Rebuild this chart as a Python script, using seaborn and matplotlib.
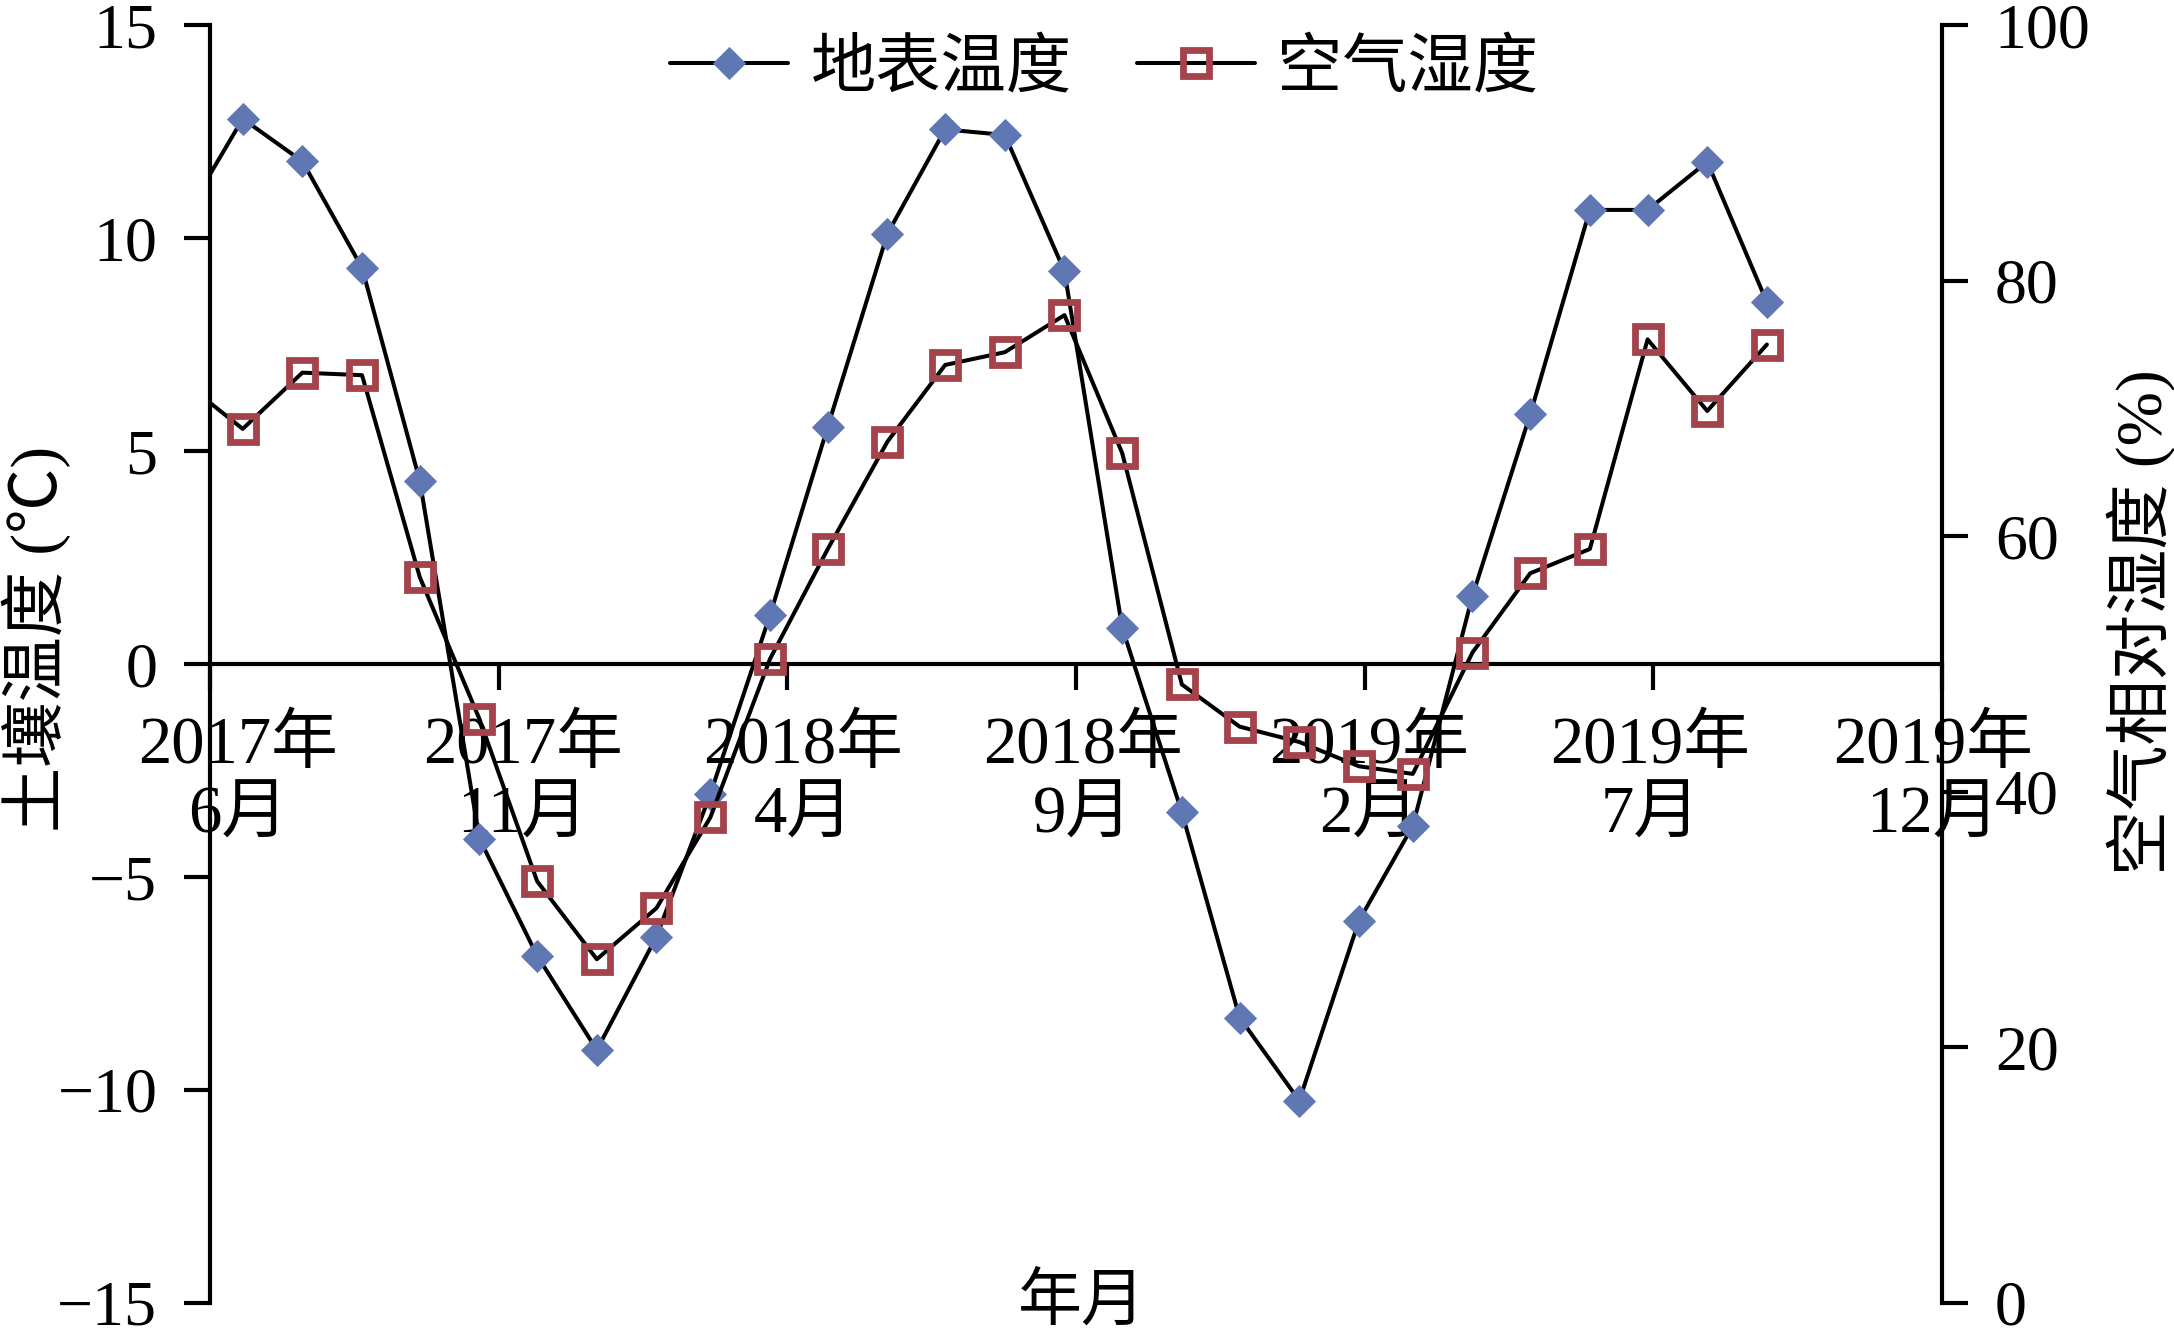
import numpy as np
import pandas as pd
import matplotlib
matplotlib.use("Agg")
import matplotlib.pyplot as plt
import matplotlib.transforms as mtransforms
import seaborn as sns

# monthly sampling dates (the first one sits left of the axis start and gets clipped)
dates = ["2017-06-01", "2017-07-01", "2017-08-01", "2017-09-01", "2017-10-01",
         "2017-11-01", "2017-12-01", "2018-01-01", "2018-02-01", "2018-03-01",
         "2018-04-01", "2018-05-01", "2018-06-01", "2018-07-01", "2018-08-01",
         "2018-09-01", "2018-10-01", "2018-11-01", "2018-12-01", "2019-01-01",
         "2019-02-01", "2019-03-01", "2019-04-01", "2019-05-01", "2019-06-01",
         "2019-07-01", "2019-08-01", "2019-09-01"]

# 地表温度 (°C), left axis
soil_temp = [10.5, 12.8, 11.8, 9.3, 4.3, -4.1, -6.85, -9.06, -6.4, -3.05,
             1.15, 5.57, 10.1, 12.55, 12.42, 9.22, 0.85, -3.48, -8.3, -10.25,
             -6.03, -3.8, 1.6, 5.86, 10.66, 10.66, 11.79, 8.49]

# 空气湿度 (%), right axis
air_humidity = [72.0, 68.4, 72.8, 72.6, 56.8, 45.7, 33.0, 26.9, 30.9, 38.0,
                50.4, 59.0, 67.4, 73.4, 74.4, 77.3, 66.5, 48.4, 45.1, 43.9,
                42.0, 41.4, 50.9, 57.1, 59.0, 75.4, 69.8, 75.0]

series_names = ["地表温度", "空气湿度"]
left_label = "土壤温度 (℃)"
right_label = "空气相对湿度 (%)"
x_label = "年月"

df = pd.DataFrame({"date": pd.to_datetime(dates),
                   "temp": soil_temp,
                   "rh": air_humidity})

sns.set_theme(style="ticks")
plt.rcParams['font.family'] = ['Liberation Serif', 'Noto Sans CJK SC']
plt.rcParams['axes.unicode_minus'] = True
plt.rcParams['text.color'] = 'black'
plt.rcParams['axes.labelcolor'] = 'black'

fig = plt.figure(figsize=(21.74, 13.39), dpi=100)
fig.patch.set_facecolor("white")
ax = fig.add_axes([0.0966, 0.0269, 0.7967, 0.9544])
ax.set_facecolor("white")
ax2 = ax.twinx()

blue = "#5F78B4"
red = "#A5434C"
lw_axis = 3.0

sns.lineplot(data=df, x="date", y="temp", ax=ax, color="black", linewidth=2.9,
             marker="D", markersize=16.0, markerfacecolor=blue,
             markeredgecolor=blue, markeredgewidth=0.6, label=series_names[0])
sns.lineplot(data=df, x="date", y="rh", ax=ax2, color="black", linewidth=2.9,
             marker="s", markersize=18.3, markerfacecolor="none",
             markeredgecolor=red, markeredgewidth=4.9, label=series_names[1])

for a in (ax, ax2):
    if a.get_legend() is not None:
        a.get_legend().remove()

# date axis: Excel-style major unit of 150 days
ticks = pd.date_range("2017-06-14", periods=7, freq="150D")
ax.set_xlim(ticks[0], ticks[-1])
ax.set_xticks(ticks)
ax.set_xticklabels([f"{d.year}年\n{d.month}月" for d in ticks], linespacing=1.15)

ax.set_ylim(-15, 15)
ax.set_yticks([-15, -10, -5, 0, 5, 10, 15])
ax2.set_ylim(0, 100)
ax2.set_yticks([0, 20, 40, 60, 80, 100])

ax.spines['bottom'].set_position(('data', 0))
ax.spines['top'].set_visible(False)
ax.spines['right'].set_visible(False)
for s in ['left', 'top', 'bottom']:
    ax2.spines[s].set_visible(False)
for sp in [ax.spines['left'], ax.spines['bottom'], ax2.spines['right']]:
    sp.set_linewidth(lw_axis)
    sp.set_color("black")

ax.tick_params(axis='y', direction='out', length=19, width=lw_axis,
               labelsize=46, pad=19, colors="black")
ax.tick_params(axis='x', direction='out', length=19, width=lw_axis,
               labelsize=48, pad=18, colors="black")
ax2.tick_params(axis='y', direction='out', length=19, width=lw_axis,
                labelsize=46, pad=19, colors="black")

# labels in the original are not exactly centred on their ticks
label_shift_px = [28, 24, 16, 7, 4, -3, -9]
for lab, dx in zip(ax.get_xticklabels(), label_shift_px):
    lab.set_transform(lab.get_transform() +
                      mtransforms.ScaledTranslation(dx / 100, 0, fig.dpi_scale_trans))

ax.set_xlabel("")
ax.set_ylabel(left_label, fontsize=47, color="black")
ax.yaxis.set_label_coords(-0.080, 0.52)
ax2.set_ylabel(right_label, fontsize=47, color="black")
ax2.yaxis.set_label_coords(1.095, 0.533)

fig.text(0.4975, 0.025, x_label, fontsize=46, ha="center", va="center")

h1, l1 = ax.get_legend_handles_labels()
h2, l2 = ax2.get_legend_handles_labels()
fig.legend(h1 + h2, l1 + l2, loc="center", bbox_to_anchor=(0.508, 0.948),
           ncol=2, frameon=False, fontsize=47, handlelength=1.8,
           handletextpad=0.35, columnspacing=1.0)

plt.savefig("out.png", dpi=100, facecolor="white")
plt.close()
